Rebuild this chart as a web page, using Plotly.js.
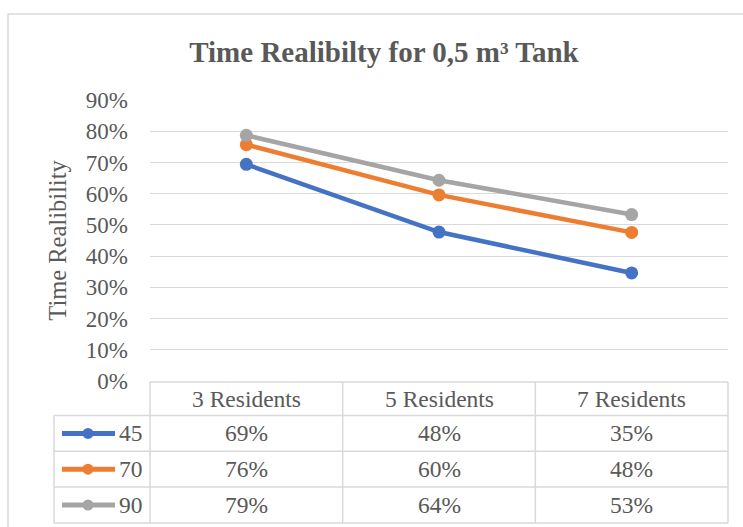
<!DOCTYPE html>
<html>
<head>
<meta charset="utf-8">
<script src="https://cdn.plot.ly/plotly-3.0.1.min.js"></script>
<style>html,body{margin:0;padding:0;background:#fff;}#chart{width:743px;height:527px;}</style>
</head>
<body>
<div id="chart"></div>
<script>
// ---- data ----
const categories = ["3 Residents", "5 Residents", "7 Residents"];
const seriesNames = ["45", "70", "90"];
const series45 = [0.694, 0.477, 0.346];
const series70 = [0.757, 0.596, 0.476];
const series90 = [0.787, 0.643, 0.533];
const yTickVals = [0, 0.1, 0.2, 0.3, 0.4, 0.5, 0.6, 0.7, 0.8, 0.9];
const yTickText = ["0%", "10%", "20%", "30%", "40%", "50%", "60%", "70%", "80%", "90%"];

// ---- styles ----
const colors = ["#4472C4", "#ED7D31", "#A5A5A5"];
const textColor = "#595959";
const gridColor = "#D9D9D9";
const font = "Liberation Serif, Times New Roman, serif";

const W = 743, H = 527;
const M = {l: 150, r: 15, t: 100, b: 146};
const plotW = W - M.l - M.r, plotH = H - M.t - M.b;
const px2x = p => (p - M.l) / plotW;
const py2y = p => (H - M.b - p) / plotH;

const allSeries = [series45, series70, series90];
const traces = allSeries.map((vals, i) => ({
  type: "scatter", mode: "lines+markers",
  x: categories, y: vals, name: seriesNames[i],
  line: {color: colors[i], width: 4.5},
  marker: {color: colors[i], size: 13},
  cliponaxis: false, showlegend: false
}));

// ---- data table (shapes + annotations) ----
const shapes = [];
const annotations = [];
const lineStyle = {color: gridColor, width: 1.5};
const tableTop = H - M.b + 1;
const headerH = 33.5, rowH = 35.8;
const legendLeft = 54;
const rowsBottom = tableTop + headerH + rowH * seriesNames.length;
const tableFont = {family: font, size: 23.5, color: textColor};

// outer chart border
shapes.push({type: "rect", xref: "paper", yref: "paper",
  x0: px2x(8), x1: px2x(W + 20), y0: py2y(14), y1: py2y(H + 20),
  line: {color: gridColor, width: 1.5}, fillcolor: "rgba(0,0,0,0)", layer: "below"});

// vertical lines for category columns
for (let i = 0; i <= categories.length; i++) {
  const xp = i / categories.length;
  shapes.push({type: "line", xref: "paper", yref: "paper",
    x0: xp, x1: xp, y0: py2y(tableTop), y1: py2y(rowsBottom), line: lineStyle});
}
// table top
shapes.push({type: "line", xref: "paper", yref: "paper",
  x0: 0, x1: 1, y0: py2y(tableTop), y1: py2y(tableTop), line: lineStyle});
// legend column left
shapes.push({type: "line", xref: "paper", yref: "paper",
  x0: px2x(legendLeft), x1: px2x(legendLeft),
  y0: py2y(tableTop + headerH), y1: py2y(rowsBottom), line: lineStyle});
// horizontal row lines
for (let r = 0; r <= seriesNames.length; r++) {
  const yy = tableTop + headerH + r * rowH;
  shapes.push({type: "line", xref: "paper", yref: "paper",
    x0: px2x(legendLeft), x1: 1, y0: py2y(yy), y1: py2y(yy), line: lineStyle});
}
// header labels
categories.forEach((c, i) => {
  annotations.push({xref: "paper", yref: "paper",
    x: (i + 0.5) / categories.length, y: py2y(tableTop + headerH / 2),
    text: c, showarrow: false, xanchor: "center", yanchor: "middle", font: tableFont});
});
// rows
allSeries.forEach((vals, r) => {
  const cy = tableTop + headerH + (r + 0.5) * rowH;
  // legend glyph
  shapes.push({type: "line", xref: "paper", yref: "paper",
    x0: px2x(62), x1: px2x(115), y0: py2y(cy), y1: py2y(cy),
    line: {color: colors[r], width: 5}});
  const rad = 5.5;
  shapes.push({type: "circle", xref: "paper", yref: "paper",
    x0: px2x(88 - rad), x1: px2x(88 + rad), y0: py2y(cy - rad), y1: py2y(cy + rad),
    line: {width: 0}, fillcolor: colors[r]});
  annotations.push({xref: "paper", yref: "paper", x: px2x(117), y: py2y(cy),
    text: seriesNames[r], showarrow: false, xanchor: "left", yanchor: "middle", font: tableFont});
  vals.forEach((v, i) => {
    annotations.push({xref: "paper", yref: "paper",
      x: (i + 0.5) / categories.length, y: py2y(cy),
      text: Math.round(v * 100) + "%", showarrow: false, xanchor: "center", yanchor: "middle",
      font: tableFont});
  });
});

const layout = {
  width: W, height: H,
  margin: {l: M.l, r: M.r, t: M.t, b: M.b, pad: 0},
  paper_bgcolor: "#fff", plot_bgcolor: "#fff",
  showlegend: false,
  title: {text: "Time Realibilty for 0,5 m³ Tank",
    font: {family: font, size: 29, color: textColor, weight: "bold"},
    x: 384 / W, xanchor: "center", xref: "container",
    y: 1 - 52 / H, yanchor: "middle", yref: "container"},
  xaxis: {type: "category", range: [-0.5, categories.length - 0.5],
    showticklabels: false, showgrid: false, zeroline: false, showline: false, ticks: ""},
  yaxis: {range: [0, 0.9], tickvals: yTickVals, ticktext: yTickText,
    showgrid: true, gridcolor: gridColor, gridwidth: 1.2, zeroline: false, showline: false,
    ticks: "", ticklabelstandoff: 21,
    tickfont: {family: font, size: 23, color: textColor},
    title: {text: "Time Realibility", standoff: 12,
      font: {family: font, size: 24.5, color: textColor}}},
  shapes: shapes, annotations: annotations
};

Plotly.newPlot("chart", traces, layout, {displayModeBar: false, staticPlot: true});
</script>
</body>
</html>
